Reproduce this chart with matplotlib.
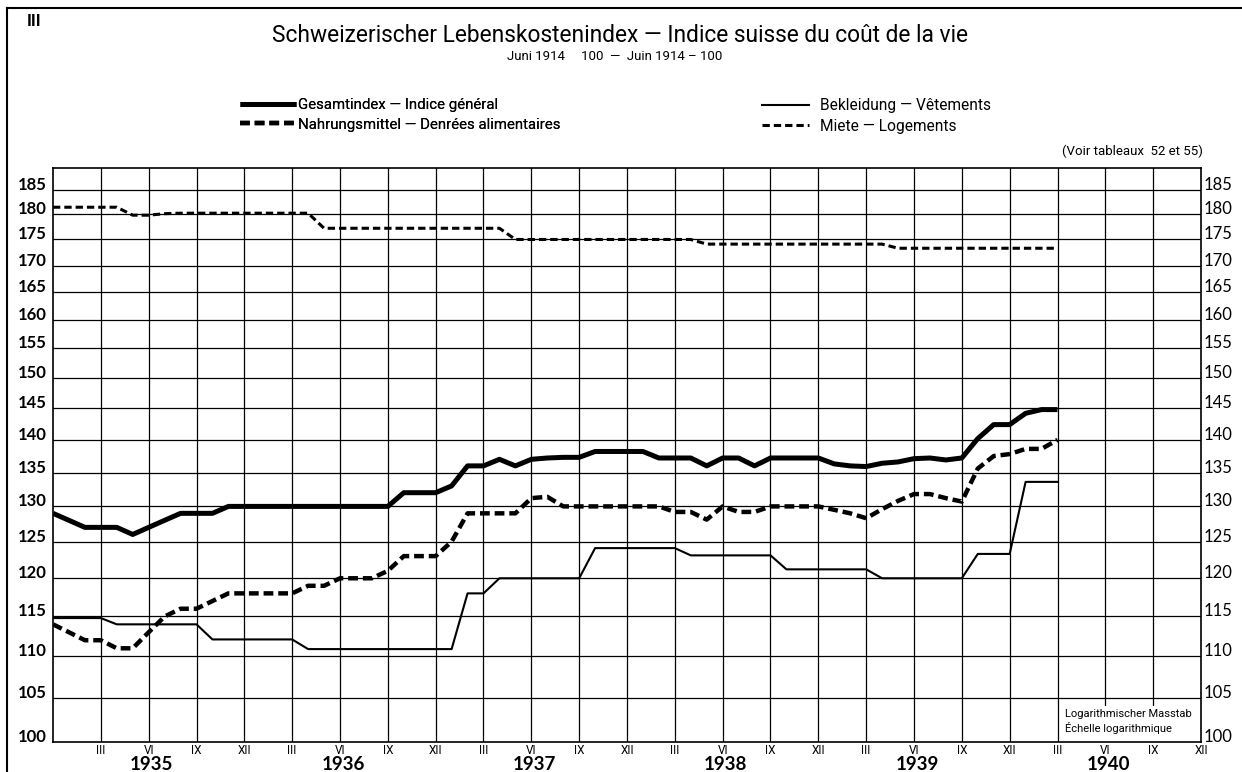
import numpy as np
import matplotlib
matplotlib.use("Agg")
import matplotlib.pyplot as plt
from matplotlib.lines import Line2D
from matplotlib.patches import Rectangle

# ---------------- data (monthly, Dec 1934 .. Mar 1940) ----------------
gesamtindex = [129, 128, 127, 127, 127, 126, 127, 128, 129, 129, 129, 130,
               130, 130, 130, 130, 130, 130, 130, 130, 130, 130, 132, 132,
               132, 133, 136, 136, 137, 136, 137, 137.2, 137.3, 137.3, 138.2, 138.2,
               138.2, 138.2, 137.2, 137.2, 137.2, 136, 137.2, 137.2, 136, 137.2, 137.2, 137.2,
               137.2, 136.3, 136, 135.9, 136.4, 136.6, 137.1, 137.2, 136.9, 137.2, 140.2, 142.4,
               142.4, 144.2, 144.8, 144.8]
nahrungsmittel = [114, 113, 112, 112, 111, 111, 113, 115, 116, 116, 117, 118,
                  118, 118, 118, 118, 119, 119, 120, 120, 120, 121, 123, 123,
                  123, 125, 129, 129, 129, 129, 131.2, 131.4, 130, 130, 130, 130,
                  130, 130, 130, 129.2, 129.2, 128.1, 130, 129.2, 129.2, 130, 130, 130,
                  130, 129.5, 129, 128.3, 129.6, 130.8, 131.8, 131.8, 131.2, 130.7, 135.6, 137.5,
                  137.8, 138.6, 138.6, 140]
bekleidung = [114.8, 114.8, 114.8, 114.8, 114, 114, 114, 114, 114, 114, 112.1, 112.1,
              112.1, 112.1, 112.1, 112.1, 110.9, 110.9, 110.9, 110.9, 110.9, 110.9, 110.9, 110.9,
              110.9, 110.9, 118, 118, 120, 120, 120, 120, 120, 120, 124.1, 124.1,
              124.1, 124.1, 124.1, 124.1, 123.1, 123.1, 123.1, 123.1, 123.1, 123.1, 121.2, 121.2,
              121.2, 121.2, 121.2, 121.2, 120, 120, 120, 120, 120, 120, 123.3, 123.3,
              123.3, 133.6, 133.6, 133.6]
miete = [181.4, 181.4, 181.4, 181.4, 181.4, 179.8, 179.8, 180.1, 180.2, 180.2, 180.2, 180.2,
         180.2, 180.2, 180.2, 180.2, 180.2, 177.2, 177.2, 177.2, 177.2, 177.2, 177.2, 177.2,
         177.2, 177.2, 177.2, 177.2, 177.2, 175, 175, 175, 175, 175, 175, 175,
         175, 175, 175, 175, 175, 174.1, 174.1, 174.1, 174.1, 174.1, 174.1, 174.1,
         174.1, 174.1, 174.1, 174.1, 174.1, 173.3, 173.3, 173.3, 173.3, 173.3, 173.3, 173.3,
         173.3, 173.3, 173.3, 173.3]

quarter_labels = ["III", "VI", "IX", "XII"]
years = ["1935", "1936", "1937", "1938", "1939", "1940"]
y_ticks = [100, 105, 110, 115, 120, 125, 130, 135, 140, 145, 150, 155, 160, 165, 170, 175, 180, 185]

series_labels = ["Gesamtindex — Indice général",
                 "Nahrungsmittel — Denrées alimentaires",
                 "Bekleidung — Vêtements",
                 "Miete — Logements"]

# ---------------- figure ----------------
W, H = 1242, 772
fig = plt.figure(figsize=(W / 100, H / 100), dpi=100)
fig.patch.set_facecolor("white")
ax = fig.add_axes([53 / W, 30 / H, 1148 / W, 574 / H])

TXT = ["Roboto", "DejaVu Sans"]
NUM = ["Lato", "DejaVu Sans"]

x = np.arange(len(gesamtindex))
n_months = 12 * len(years)

ax.set_yscale("log")
ax.set_xlim(0, n_months)
ax.set_ylim(100, 189.5)
ax.set_xticks([])
ax.set_yticks([])
ax.yaxis.set_minor_locator(matplotlib.ticker.NullLocator())
for s in ax.spines.values():
    s.set_linewidth(1.2)
    s.set_color("black")

# grid
for v in y_ticks[1:]:
    ax.axhline(v, color="black", lw=0.9, zorder=1)
for m in range(3, n_months, 3):
    ax.axvline(m, color="black", lw=0.9, zorder=1)

# series
l1, = ax.plot(x, gesamtindex, color="black", lw=3.6, solid_joinstyle="round",
              solid_capstyle="butt", zorder=5, label=series_labels[0])
l2, = ax.plot(x, nahrungsmittel, color="black", lw=3.2, linestyle=(0, (2.2, 1.1)),
              zorder=5, label=series_labels[1])
l3, = ax.plot(x, bekleidung, color="black", lw=1.5, zorder=5, label=series_labels[2])
l4, = ax.plot(x, miete, color="black", lw=2.2, linestyle=(0, (2.4, 1.3)),
              zorder=5, label=series_labels[3])

# y tick labels on both sides
ytr = ax.get_yaxis_transform()
for v in y_ticks:
    ax.text(-0.0055, v, str(v), transform=ytr, ha="right", va="baseline",
            fontsize=12, fontweight="bold", family=NUM)
    ax.text(1.002, v, str(v), transform=ytr, ha="left", va="baseline",
            fontsize=12, family=NUM)

# x labels
xtr = ax.get_xaxis_transform()
for k, yr in enumerate(years):
    for q, ql in enumerate(quarter_labels):
        m = 12 * k + 3 * (q + 1)
        ax.text(m, -0.004, ql, transform=xtr, ha="center", va="top",
                fontsize=8.5, family=TXT)
    ax.text(12 * k + 6.2, -0.025, yr, transform=xtr, ha="center", va="top",
            fontsize=13.5, fontweight="bold", family=NUM)

# log-scale note (white box covering the grid in the corner)
ax.add_patch(Rectangle((63.15, 100.05), 8.8, 4.0, facecolor="white", edgecolor="none",
                       zorder=2))
ax.text(63.5, 103.15, "Logarithmischer Masstab", ha="left", va="center",
        fontsize=8, family=TXT, zorder=3)
ax.text(63.5, 101.55, "Échelle logarithmique", ha="left", va="center",
        fontsize=8, family=TXT, zorder=3)

# titles
fig.text(620 / W, 1 - 36 / H, "Schweizerischer Lebenskostenindex — Indice suisse du coût de la vie",
         ha="center", va="center", fontsize=16.4, family=TXT)
fig.text(615 / W, 1 - 57 / H, "Juni 1914     100  —  Juin 1914 – 100",
         ha="center", va="center", fontsize=9.5, family=TXT)
fig.text(27 / W, 1 - 22 / H, "III", ha="left", va="center", fontsize=12,
         fontweight="bold", family=TXT)
fig.text(1203 / W, 1 - 151 / H, "(Voir tableaux  52 et 55)", ha="right", va="center",
         fontsize=9.5, family=TXT)

# legends
leg1 = fig.legend(handles=[l1, l2], loc="center left", bbox_to_anchor=(240 / W, 1 - 115 / H),
                  frameon=False, handlelength=3.7, handletextpad=0.2,
                  labelspacing=0.35, borderpad=0, borderaxespad=0,
                  prop={"family": TXT, "size": 10.8})
leg2 = fig.legend(handles=[l3, l4], loc="center left", bbox_to_anchor=(762 / W, 1 - 116 / H),
                  frameon=False, handlelength=3.0, handletextpad=0.75,
                  labelspacing=0.35, borderpad=0, borderaxespad=0,
                  prop={"family": TXT, "size": 11.2})
fig.add_artist(leg1)

# outer frame (left and top)
fig.add_artist(Line2D([7 / W, 7 / W], [0, 1 - 8 / H], transform=fig.transFigure,
                      color="black", lw=1.5))
fig.add_artist(Line2D([7 / W, 1], [1 - 8 / H, 1 - 8 / H], transform=fig.transFigure,
                      color="black", lw=1.5))

fig.savefig("out.png", dpi=100, facecolor="white")
